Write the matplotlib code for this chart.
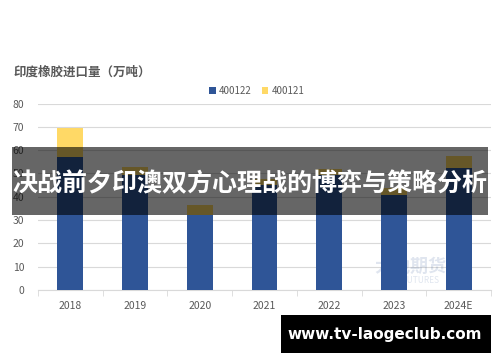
import matplotlib.pyplot as plt
from matplotlib.patches import Rectangle
import numpy as np

plt.rcParams['font.family'] = ['Noto Sans CJK SC', 'DejaVu Sans']

years = ["2018", "2019", "2020", "2021", "2022", "2023", "2024E"]
s400122 = [57.2, 49.5, 32.2, 45.0, 49.2, 40.8, 52.3]
s400121 = [12.2, 3.2, 4.3, 2.5, 2.6, 2.8, 5.2]
series_names = ["400122", "400121"]
chart_title = "印度橡胶进口量（万吨）"
banner_text = "决战前夕印澳双方心理战的博弈与策略分析"
site_text = "www.tv-laogeclub.com"

fig = plt.figure(figsize=(5, 3.62), dpi=100)
ax = fig.add_axes([0.076, 0.199, 0.906, 0.515])

x = np.arange(len(years))
ax.bar(x, s400122, width=0.4, color="#2F5597", label=series_names[0], zorder=3)
ax.bar(x, s400121, width=0.4, bottom=s400122, color="#FFD966", label=series_names[1], zorder=3)

ax.set_xlim(-0.5, len(years) - 0.5)
ax.set_ylim(0, 80)
ax.set_yticks(range(0, 81, 10))
ax.grid(axis="y", color="#D9D9D9", linewidth=0.8, zorder=0)
for s in ["top", "right", "left"]:
    ax.spines[s].set_visible(False)
ax.spines["bottom"].set_color("#D9D9D9")
ax.tick_params(axis="y", length=0, pad=10, labelsize=7.5, labelcolor="#595959")
ax.set_xticks(x)
ax.set_xticklabels(years)
ax.tick_params(axis="x", which="major", length=0, pad=8, labelsize=7.5, labelcolor="#595959")
ax.set_xticks(np.arange(-0.5, len(years)), minor=True)
ax.tick_params(axis="x", which="minor", length=4, color="#D9D9D9")

fig.text(0.028, 0.80, chart_title, fontsize=9, fontweight="bold", color="#595959", va="center")
ax.legend(loc="lower left", bbox_to_anchor=(0.37, 1.02), ncol=2, frameon=False,
          fontsize=7, handlelength=0.7, handleheight=0.7, columnspacing=1.0,
          handletextpad=0.3, labelcolor="#595959", borderaxespad=0)

# watermark
fig.text(0.82, 0.265, "大地期货", fontsize=13, color="#2F5597", alpha=0.15,
         ha="center", va="center", fontweight="bold")
fig.text(0.82, 0.225, "DADI FUTURES", fontsize=6, color="#2F5597", alpha=0.15,
         ha="center", va="center")

# dark banner
fig.patches.append(Rectangle((0.024, 0.406), 0.952, 0.188, transform=fig.transFigure,
                             facecolor="black", alpha=0.6, edgecolor="none", zorder=5))
fig.text(0.5, 0.492, banner_text, fontsize=18, fontweight="bold", color="white",
         ha="center", va="center", zorder=6)

# site box
fig.patches.append(Rectangle((0.562, 0.025), 0.42, 0.105, transform=fig.transFigure,
                             facecolor="black", edgecolor="none", zorder=5))
fig.text(0.77, 0.077, site_text, fontsize=11, fontweight="bold", color="white",
         ha="center", va="center", family="DejaVu Sans", zorder=6)

fig.savefig("out.png", dpi=100)
